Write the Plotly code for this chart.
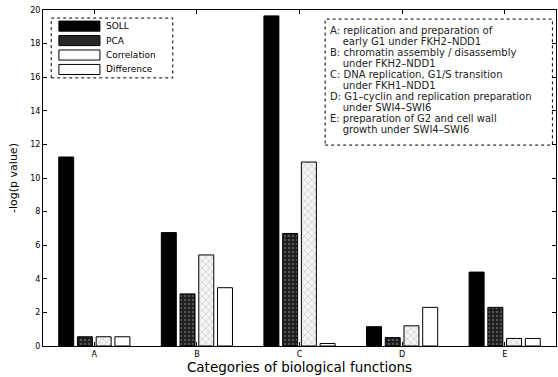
import plotly.graph_objects as go

categories = ["A", "B", "C", "D", "E"]
series_names = ["SOLL", "PCA", "Correlation", "Difference"]
soll = [11.25, 6.75, 19.65, 1.15, 4.4]
pca = [0.55, 3.1, 6.7, 0.5, 2.3]
correlation = [0.55, 5.42, 10.95, 1.2, 0.45]
difference = [0.55, 3.47, 0.15, 2.3, 0.45]
y_ticks = list(range(0, 21, 2))
note_lines = [
    "A: replication and preparation of",
    "    early G1 under FKH2\u2013NDD1",
    "B: chromatin assembly / disassembly",
    "    under FKH2\u2013NDD1",
    "C: DNA replication, G1/S transition",
    "    under FKH1\u2013NDD1",
    "D: G1\u2013cyclin and replication preparation",
    "    under SWI4\u2013SWI6",
    "E: preparation of G2 and cell wall",
    "    growth under SWI4\u2013SWI6",
]

styles = [
    dict(color="black", line=dict(color="black", width=1)),
    dict(color="#1c1c1c", line=dict(color="black", width=1),
         pattern=dict(shape=".", fgcolor="#8a8a8a", size=4, solidity=0.3)),
    dict(color="#f4f4f4", line=dict(color="black", width=1),
         pattern=dict(shape="x", fgcolor="#9a9a9a", size=5, solidity=0.25)),
    dict(color="white", line=dict(color="black", width=1)),
]
swatch_fill = ["black", "#262626", "white", "white"]

x = list(range(1, len(categories) + 1))
fig = go.Figure()
for name, vals, st in zip(series_names, [soll, pca, correlation, difference], styles):
    fig.add_bar(x=x, y=vals, name=name, marker=st, showlegend=False)

font = "DejaVu Sans, Liberation Sans, Arial, sans-serif"
fig.update_layout(
    width=558, height=377,
    margin=dict(l=43, r=2, t=10, b=31),
    paper_bgcolor="white", plot_bgcolor="white",
    barmode="group", bargap=0.27, bargroupgap=0.2,
    font=dict(family=font, size=8, color="black"),
    showlegend=False,
    xaxis=dict(range=[0.5, 5.5], tickmode="array", tickvals=x, ticktext=categories,
               showline=True, linecolor="black", linewidth=1, mirror="ticks",
               ticks="inside", ticklen=4, tickcolor="black", showgrid=False, zeroline=False,
               title=dict(text="Categories of biological functions", font=dict(size=13.5), standoff=1),
               tickfont=dict(size=8)),
    yaxis=dict(range=[0, 20], tickmode="array", tickvals=y_ticks,
               showline=True, linecolor="black", linewidth=1, mirror="ticks",
               ticks="inside", ticklen=4, tickcolor="black", showgrid=False, zeroline=False,
               title=dict(text="-log(p value)", font=dict(size=11), standoff=10),
               tickfont=dict(size=8)),
)

# hand-drawn legend inside a dotted frame
fig.add_shape(type="rect", xref="paper", yref="paper", x0=0.016, x1=0.253, y0=0.798, y1=0.976,
              line=dict(color="black", width=1, dash="dot"), fillcolor="white", layer="below")
row_y = [0.952, 0.909, 0.866, 0.823]
for name, fill, yc in zip(series_names, swatch_fill, row_y):
    fig.add_shape(type="rect", xref="paper", yref="paper", x0=0.031, x1=0.111,
                  y0=yc - 0.015, y1=yc + 0.015, fillcolor=fill,
                  line=dict(color="black", width=1))
    fig.add_annotation(xref="paper", yref="paper", x=0.119, y=yc, text=name,
                       showarrow=False, xanchor="left", yanchor="middle",
                       font=dict(size=9, family=font))

# note frame
fig.add_shape(type="rect", xref="paper", yref="paper", x0=0.55, x1=0.993, y0=0.598, y1=0.973,
              line=dict(color="black", width=1, dash="dot"), fillcolor="white", layer="below")
for i, line in enumerate(note_lines):
    fig.add_annotation(xref="paper", yref="paper", x=0.555, y=0.94 - i * 0.033,
                       text=line, showarrow=False, xanchor="left", yanchor="middle",
                       font=dict(size=10, family=font, color="#222"))

fig.write_html("out.html", config={"displayModeBar": False},
               post_script="document.body.style.margin='0';")
